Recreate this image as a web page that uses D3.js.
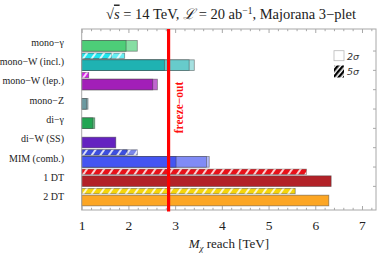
<!DOCTYPE html>
<html>
<head>
<meta charset="utf-8">
<script src="https://cdn.jsdelivr.net/npm/d3@7/dist/d3.min.js"></script>
<style>
  body { margin: 0; background: #fff; }
  svg { display: block; }
  text { font-family: "Liberation Serif", "DejaVu Serif", serif; }
</style>
</head>
<body>
<div id="chart"></div>
<script>
// channels, top to bottom
var categories = ["mono\u2212\u03b3", "mono\u2212W (incl.)", "mono\u2212W (lep.)", "mono\u2212Z",
  "di\u2212\u03b3", "di\u2212W (SS)", "MIM (comb.)", "1 DT", "2 DT"];
// 2 sigma reach [TeV], nested steps (shortest first)
var reach2s = [[1.95, 2.19], [2.77, 3.30, 3.41], [2.52, 2.62], [1.10, 1.135], [1.24, 1.28],
  [1.73], [3.02, 3.67, 3.73], [6.34], [6.29]];
// 5 sigma reach [TeV], null where none
var reach5s = [null, [1.63, 1.92], [1.15], null, null, null, [1.97, 2.19], [5.81], [5.57]];
var xTicks = [1, 2, 3, 4, 5, 6, 7];
var freezeOut = 2.86;

var solidColors = ["#4dce78", "#1fb2b2", "#a21fb8", "#6b9aa0", "#22a552", "#6422c0", "#4455f2", "#b22228", "#fca624"];
var hatchColors = ["#4dce78", "#1ee6ee", "#d61ee8", "#6b9aa0", "#22a552", "#6422c0", "#3d4fe0", "#e8121a", "#f5d50a"];

var width = 382, height = 262;
var margin = {left: 81.7, right: 6, top: 29, bottom: 52};

var svg = d3.select("#chart").append("svg")
  .attr("width", width)
  .attr("height", height);

var defs = svg.append("defs");
defs.append("pattern")
  .attr("id", "stripes")
  .attr("patternUnits", "userSpaceOnUse")
  .attr("width", 7)
  .attr("height", 7)
  .attr("patternTransform", "rotate(35)")
  .append("line")
  .attr("x1", 2).attr("y1", 0).attr("x2", 2).attr("y2", 7)
  .attr("stroke", "#fff")
  .attr("stroke-width", 1.6);
defs.append("pattern")
  .attr("id", "legendStripes")
  .attr("patternUnits", "userSpaceOnUse")
  .attr("width", 4)
  .attr("height", 4)
  .attr("patternTransform", "rotate(40)")
  .append("rect")
  .attr("x", 0).attr("y", 0).attr("width", 2.4).attr("height", 4)
  .attr("fill", "#000");

var x = d3.scaleLinear()
  .domain([1, 7.3])
  .range([margin.left, width - margin.right]);
var y = d3.scaleBand()
  .domain(categories)
  .range([32.5, 206.5]);
var y0 = margin.top, y1 = height - margin.bottom;

function shade(c, i) {
  return d3.interpolateRgb(c, "#fff")([0, 0.32, 0.6][i]);
}

// bars
var rows = svg.append("g").selectAll("g")
  .data(categories)
  .join("g")
  .attr("transform", function(d) { return "translate(0," + y(d) + ")"; });

rows.each(function(c, i) {
  var g = d3.select(this);
  var steps = reach2s[i].map(function(v, k) { return {v: v, k: k}; }).reverse();
  steps.forEach(function(s) {
    g.append("rect")
      .attr("x", x(1))
      .attr("y", 8)
      .attr("width", x(s.v) - x(1))
      .attr("height", 10.7)
      .attr("fill", shade(solidColors[i], s.k))
      .attr("stroke", "rgba(60,60,60,0.55)")
      .attr("stroke-width", 0.8);
  });
  if (reach5s[i]) {
    var hsteps = reach5s[i].map(function(v, k) { return {v: v, k: k}; }).reverse();
    hsteps.forEach(function(s) {
      g.append("rect")
        .attr("x", x(1))
        .attr("y", 1.3)
        .attr("width", x(s.v) - x(1))
        .attr("height", 5.3)
        .attr("fill", shade(hatchColors[i], s.k))
        .attr("stroke", "rgba(60,60,60,0.55)")
        .attr("stroke-width", 0.8);
      g.append("rect")
        .attr("x", x(1))
        .attr("y", 1.3)
        .attr("width", x(s.v) - x(1))
        .attr("height", 5.3)
        .attr("fill", "url(#stripes)");
    });
  }
});

// frame
svg.append("rect")
  .attr("x", x.range()[0])
  .attr("y", y0)
  .attr("width", x.range()[1] - x.range()[0])
  .attr("height", y1 - y0)
  .attr("fill", "none")
  .attr("stroke", "#a8a8a8")
  .attr("stroke-width", 1);

var minor = d3.range(1, 7.3, 0.2).filter(function(v) { return Math.abs(v - Math.round(v)) > 0.01; });

svg.append("g")
  .attr("transform", "translate(0," + y0 + ")")
  .call(d3.axisTop(x).tickValues(minor).tickSize(-2.2).tickFormat(""))
  .call(function(g) { g.select(".domain").remove(); g.selectAll("line").attr("stroke", "#a8a8a8"); });
svg.append("g")
  .attr("transform", "translate(0," + y0 + ")")
  .call(d3.axisTop(x).tickValues(xTicks).tickSize(-4).tickFormat(""))
  .call(function(g) { g.select(".domain").remove(); g.selectAll("line").attr("stroke", "#a8a8a8"); });
svg.append("g")
  .attr("transform", "translate(0," + y1 + ")")
  .call(d3.axisBottom(x).tickValues(minor).tickSize(-2.2).tickFormat(""))
  .call(function(g) { g.select(".domain").remove(); g.selectAll("line").attr("stroke", "#a8a8a8"); });
svg.append("g")
  .attr("transform", "translate(0," + y1 + ")")
  .call(d3.axisBottom(x).tickValues(xTicks).tickSize(-4).tickPadding(10).tickFormat(d3.format("d")))
  .call(function(g) {
    g.select(".domain").remove();
    g.selectAll("line").attr("stroke", "#a8a8a8");
    g.selectAll("text")
      .attr("fill", "#222")
      .style("font-family", "'Liberation Serif', serif")
      .style("font-size", "13.5px");
  });

// side ticks at row boundaries
svg.append("g").selectAll("line")
  .data(categories.slice(0, -1))
  .join("line")
  .attr("x1", x.range()[1] - 3)
  .attr("x2", x.range()[1])
  .attr("y1", function(d) { return y(d) + y.bandwidth() - 0.8; })
  .attr("y2", function(d) { return y(d) + y.bandwidth() - 0.8; })
  .attr("stroke", "#a8a8a8");

// category labels
svg.append("g").selectAll("text")
  .data(categories)
  .join("text")
  .attr("x", 64)
  .attr("y", function(d) { return y(d) + y.bandwidth() / 2; })
  .attr("dy", "0.35em")
  .attr("text-anchor", "end")
  .attr("fill", "#222")
  .style("font-size", "10px")
  .text(function(d) { return d; });

// freeze-out line
svg.append("line")
  .attr("x1", x(freezeOut)).attr("x2", x(freezeOut))
  .attr("y1", y0).attr("y2", y1 + 1.5)
  .attr("stroke", "#ff0000")
  .attr("stroke-width", 3.2);
svg.append("text")
  .attr("transform", "translate(" + (x(freezeOut) + 14) + ",107.5) rotate(-90)")
  .attr("text-anchor", "middle")
  .attr("fill", "#ff1010")
  .style("font-size", "11.5px")
  .style("font-weight", "bold")
  .text("freeze\u2212out");

// legend
svg.append("rect")
  .attr("x", 334).attr("y", 50.7)
  .attr("width", 10).attr("height", 10)
  .attr("fill", "#fff")
  .attr("stroke", "#b8b8b8")
  .attr("stroke-width", 0.8);
svg.append("rect")
  .attr("x", 334).attr("y", 65.5)
  .attr("width", 10).attr("height", 12)
  .attr("fill", "url(#legendStripes)");
svg.append("text")
  .attr("x", 347).attr("y", 59.6)
  .attr("fill", "#333")
  .style("font-family", "'DejaVu Sans', sans-serif")
  .style("font-style", "italic")
  .style("font-size", "9.5px")
  .text("2\u03c3");
svg.append("text")
  .attr("x", 347).attr("y", 75)
  .attr("fill", "#333")
  .style("font-family", "'DejaVu Sans', sans-serif")
  .style("font-style", "italic")
  .style("font-size", "9.5px")
  .text("5\u03c3");

// title
var title = svg.append("text")
  .attr("x", 231)
  .attr("y", 18.5)
  .attr("text-anchor", "middle")
  .attr("fill", "#222")
  .style("font-size", "14.5px");
title.append("tspan").text("\u221a");
title.append("tspan").style("font-style", "italic").style("text-decoration", "overline").text("s");
title.append("tspan").text(" = 14 TeV, ");
title.append("tspan").style("font-style", "italic").text("\u2112");
title.append("tspan").text(" = 20 ab");
title.append("tspan").attr("dy", -5).style("font-size", "9.5px").text("\u22121");
title.append("tspan").attr("dy", 5).text(", Majorana 3\u2212plet");

// x title
var xt = svg.append("text")
  .attr("x", (x.range()[0] + x.range()[1]) / 2)
  .attr("y", 248)
  .attr("text-anchor", "middle")
  .attr("fill", "#222")
  .style("font-size", "13px");
xt.append("tspan").style("font-style", "italic").text("M");
xt.append("tspan").attr("dy", 3).style("font-style", "italic").style("font-size", "9px").text("\u03c7");
xt.append("tspan").attr("dy", -3).text(" reach [TeV]");
</script>
</body>
</html>
